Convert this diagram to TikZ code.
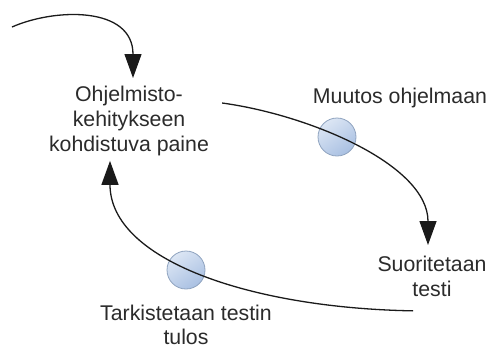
\documentclass[tikz,border=0pt]{standalone}
\usepackage{fontspec}
\setmainfont{Liberation Sans}
\usetikzlibrary{arrows.meta}
\definecolor{inkline}{HTML}{1A1A1A}
\definecolor{labeltext}{HTML}{2B2B2B}
\definecolor{discedge}{HTML}{8FA3BF}
\definecolor{disclight}{HTML}{DCE6F4}
\definecolor{discdark}{HTML}{A9C0E2}
\tikzset{
  label/.style={align=center, inner sep=0pt, anchor=north, text=labeltext,
    font=\fontsize{21.3}{24.8}\selectfont},
  disc/.style={circle, minimum size=38pt, inner sep=0pt, draw=discedge,
    line width=0.8pt, top color=disclight, bottom color=discdark, shading angle=35},
  flow/.style={draw=inkline, line width=1.3pt,
    -{Triangle[length=24pt, width=17pt]}},
}
\begin{document}
\begin{tikzpicture}[x=1pt, y=-1pt]
  \useasboundingbox (0,0) rectangle (489,349);

  % text labels
  \node[label] (paine) at (129,86) {Ohjelmisto-\\kehitykseen\\kohdistuva paine};
  \node[label] (muutos) at (400,88) {Muutos ohjelmaan};
  \node[label] (suor) at (432,256) {Suoritetaan\\testi};
  \node[label, font=\fontsize{21.3}{23.5}\selectfont] (tark) at (186,305)
    {Tarkistetaan testin\\tulos};

  % state discs sitting on the loop
  \node[disc] (d1) at (337,137) {};
  \node[disc] (d2) at (186,270) {};

  % incoming pressure
  \coordinate (origin) at (12,27);
  \draw[flow] (origin) .. controls (55,8) and (133,6) .. ([shift={(4,-8)}]paine.north);

  % the loop
  \draw[flow] ([shift={(13,17)}]paine.north east)
    .. controls (310,115) and (428,165) .. ([shift={(-4,-11)}]suor.north);
  \draw[flow] ([shift={(-19,14)}]suor.south)
    .. controls (250,308) and (110,260) .. ([shift={(-19,5)}]paine.south);
\end{tikzpicture}
\end{document}
